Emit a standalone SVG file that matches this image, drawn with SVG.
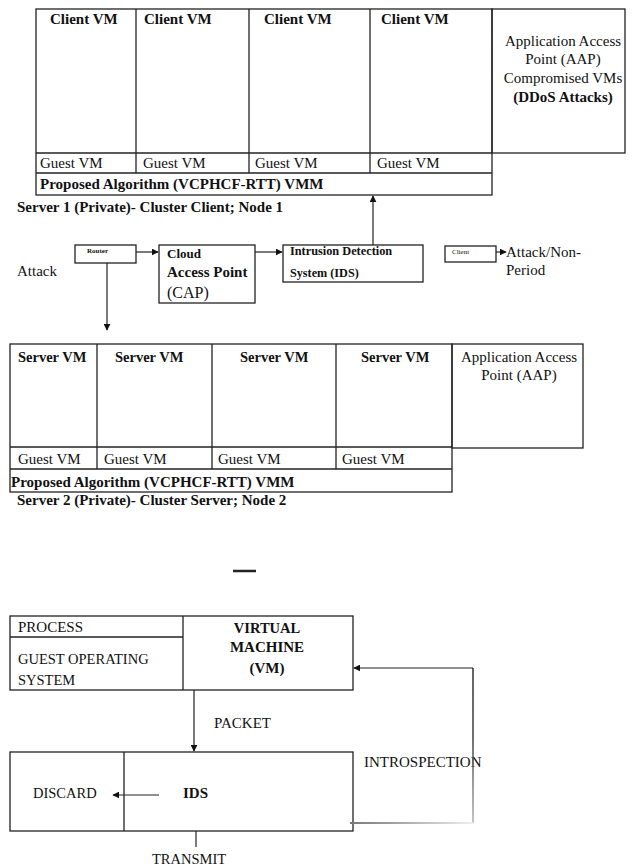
<svg xmlns="http://www.w3.org/2000/svg" width="633" height="867" viewBox="0 0 633 867">
<defs>
<style>
text{font-family:"Liberation Serif","Times New Roman",serif;fill:#111;}
.b{font-weight:bold;}
.t15{font-size:15px;}
.t14{font-size:14.5px;}
.box{fill:none;stroke:#222;stroke-width:1.3;}
.ln{fill:none;stroke:#222;stroke-width:1.3;}
.con{fill:none;stroke:#222;stroke-width:1.2;}
</style>
<marker id="ah" viewBox="0 0 10 10" refX="9" refY="5" markerWidth="7" markerHeight="7" markerUnits="userSpaceOnUse" orient="auto">
<path d="M0,0 L10,5 L0,10 Z" fill="#111"/>
</marker>
<linearGradient id="fade" x1="350" y1="0" x2="473" y2="0" gradientUnits="userSpaceOnUse">
<stop offset="0" stop-color="#777"/>
<stop offset="1" stop-color="#eee"/>
</linearGradient>
<linearGradient id="fadev" x1="0" y1="668" x2="0" y2="823" gradientUnits="userSpaceOnUse">
<stop offset="0" stop-color="#222"/>
<stop offset="0.45" stop-color="#333"/>
<stop offset="1" stop-color="#aaa"/>
</linearGradient>
</defs>
<rect width="633" height="867" fill="#fff"/>

<g id="server1">
<rect class="box" x="36" y="9" width="456" height="186"/>
<line class="ln" x1="36" y1="153" x2="492" y2="153"/>
<line class="ln" x1="36" y1="173" x2="492" y2="173"/>
<line class="ln" x1="136" y1="9" x2="136" y2="173"/>
<line class="ln" x1="249" y1="9" x2="249" y2="173"/>
<line class="ln" x1="370" y1="9" x2="370" y2="173"/>
<text class="b t15" x="50" y="24">Client VM</text>
<text class="b t15" x="144" y="24">Client VM</text>
<text class="b t15" x="264" y="24">Client VM</text>
<text class="b t15" x="381" y="24">Client VM</text>
<text class="t15" x="40" y="168">Guest VM</text>
<text class="t15" x="143" y="168">Guest VM</text>
<text class="t15" x="255" y="168">Guest VM</text>
<text class="t15" x="377" y="168">Guest VM</text>
<text class="b t15" x="40" y="189">Proposed Algorithm (VCPHCF-RTT) VMM</text>
<text class="b t15" x="17" y="212">Server 1 (Private)- Cluster Client; Node 1</text>
</g>

<g id="aap1">
<rect class="box" x="492" y="9" width="133" height="144"/>
<text class="t15" x="563" y="46" text-anchor="middle">Application Access</text>
<text class="t15" x="563" y="64" text-anchor="middle">Point (AAP)</text>
<text class="t15" x="563" y="83" text-anchor="middle">Compromised VMs</text>
<text class="b t15" x="563" y="102" text-anchor="middle">(DDoS Attacks)</text>
</g>

<g id="attack">
<text class="t15" x="17" y="276">Attack</text>
</g>

<g id="router">
<rect class="box" x="75" y="245" width="61" height="18"/>
<text class="b" x="87" y="253" font-size="7">Router</text>
</g>

<g id="cap">
<rect class="box" x="159" y="245" width="96" height="58"/>
<text class="b" x="167" y="258" font-size="13">Cloud</text>
<text class="b t15" x="167" y="277">Access Point</text>
<text x="167" y="298" font-size="16">(CAP)</text>
</g>

<g id="ids1">
<rect class="box" x="283" y="245" width="140" height="37"/>
<text class="b" x="290" y="255" font-size="12.3">Intrusion Detection</text>
<text class="b" x="290" y="277" font-size="12.2">System (IDS)</text>
</g>

<g id="client">
<rect class="box" x="445" y="246" width="51" height="16"/>
<text x="452" y="254" font-size="7">Client</text>
</g>

<g id="attackperiod">
<text class="t15" x="506" y="257">Attack/Non-</text>
<text class="t15" x="506" y="275">Period</text>
</g>

<g id="server2">
<rect class="box" x="10" y="344" width="442" height="148"/>
<line class="ln" x1="10" y1="447" x2="452" y2="447"/>
<line class="ln" x1="10" y1="469" x2="452" y2="469"/>
<line class="ln" x1="97" y1="344" x2="97" y2="469"/>
<line class="ln" x1="212" y1="344" x2="212" y2="469"/>
<line class="ln" x1="336" y1="344" x2="336" y2="469"/>
<text class="b t14" x="18" y="362">Server VM</text>
<text class="b t14" x="115" y="362">Server VM</text>
<text class="b t14" x="240" y="362">Server VM</text>
<text class="b t14" x="361" y="362">Server VM</text>
<text class="t15" x="18" y="464">Guest VM</text>
<text class="t15" x="104" y="464">Guest VM</text>
<text class="t15" x="218" y="464">Guest VM</text>
<text class="t15" x="342" y="464">Guest VM</text>
<text class="b t15" x="11" y="487">Proposed Algorithm (VCPHCF-RTT) VMM</text>
<text class="b t15" x="17" y="505">Server 2 (Private)- Cluster Server; Node 2</text>
</g>

<g id="aap2">
<rect class="box" x="452" y="344" width="131" height="104"/>
<text class="t15" x="519" y="362" text-anchor="middle">Application Access</text>
<text class="t15" x="519" y="380" text-anchor="middle">Point (AAP)</text>
</g>

<g id="dash">
<line x1="233" y1="571" x2="256" y2="571" stroke="#222" stroke-width="2.5"/>
</g>

<g id="vm">
<rect class="box" x="10" y="616" width="343" height="74"/>
<line class="ln" x1="183" y1="616" x2="183" y2="690"/>
<line class="ln" x1="10" y1="637" x2="183" y2="637"/>
<text class="t15" x="18" y="632">PROCESS</text>
<text class="t14" x="18" y="664">GUEST OPERATING</text>
<text class="t14" x="18" y="685">SYSTEM</text>
<text class="b t14" x="267" y="633" text-anchor="middle">VIRTUAL</text>
<text class="b t15" x="267" y="652" text-anchor="middle">MACHINE</text>
<text class="b t15" x="267" y="673" text-anchor="middle">(VM)</text>
</g>

<g id="ids2">
<rect class="box" x="10" y="752" width="343" height="79"/>
<line class="ln" x1="124" y1="752" x2="124" y2="831"/>
<text class="b t15" x="183" y="798">IDS</text>
</g>

<g id="labels">
<text class="t15" x="214" y="728">PACKET</text>
<text class="t15" x="364" y="767">INTROSPECTION</text>
<text class="t14" x="33" y="798">DISCARD</text>
<text class="t14" x="152" y="864">TRANSMIT</text>
</g>

<g id="connectors">
<line class="con" x1="136" y1="252" x2="158" y2="252" marker-end="url(#ah)"/>
<line class="con" x1="255" y1="252" x2="282" y2="252" marker-end="url(#ah)"/>
<line class="con" x1="373" y1="245" x2="373" y2="196" marker-end="url(#ah)"/>
<line class="con" x1="107" y1="263" x2="107" y2="330" marker-end="url(#ah)"/>
<line class="con" x1="496" y1="252" x2="506" y2="252" marker-end="url(#ah)"/>
<line class="con" x1="194" y1="690" x2="194" y2="751" marker-end="url(#ah)"/>
<line class="con" x1="159" y1="795" x2="113" y2="795" marker-end="url(#ah)"/>
<line class="con" x1="196" y1="831" x2="196" y2="847"/>
<line x1="473" y1="823" x2="473" y2="668" stroke="url(#fadev)" stroke-width="1.4" fill="none"/>
<line class="con" x1="473" y1="668" x2="354" y2="668" marker-end="url(#ah)"/>
<rect x="350" y="822" width="123" height="2" fill="url(#fade)"/>
</g>
</svg>
